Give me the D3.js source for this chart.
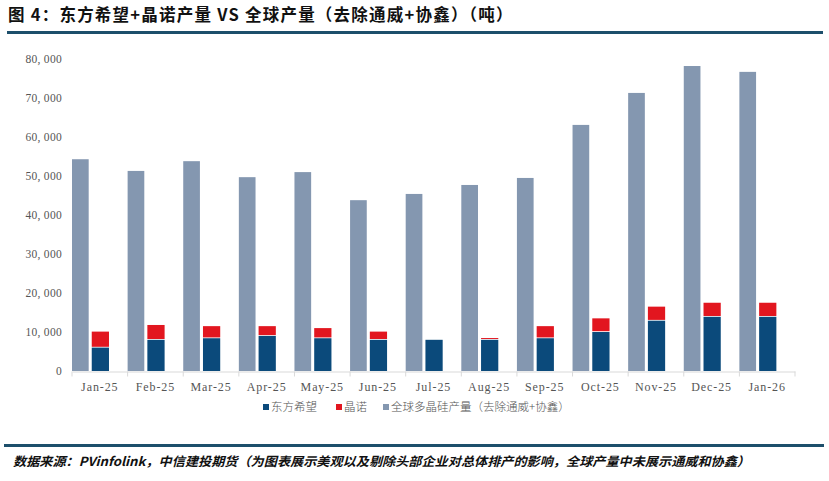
<!DOCTYPE html>
<html>
<head>
<meta charset="utf-8">
<script src="https://cdn.jsdelivr.net/npm/d3@7"></script>
<style>
  body { margin: 0; background: #fff; }
  svg { display: block; }
</style>
</head>
<body>
<svg id="chart" width="829" height="481"></svg>
<script>
const months = ["Jan-25","Feb-25","Mar-25","Apr-25","May-25","Jun-25","Jul-25","Aug-25","Sep-25","Oct-25","Nov-25","Dec-25","Jan-26"]
const global = [54300, 51300, 53800, 49700, 51000, 43800, 45400, 47700, 49500, 63100, 71300, 78200, 76700]
const dongfang = [6000, 8000, 8400, 9000, 8400, 8000, 8000, 8000, 8400, 10000, 12900, 13900, 13900]
const jingnuo = [4100, 3800, 3100, 2500, 2600, 2100, 0, 450, 3100, 3500, 3600, 3600, 3600]
const yTicks = [0, 10000, 20000, 30000, 40000, 50000, 60000, 70000, 80000]

const svg = d3.select("#chart")
const serif = "'Liberation Serif', 'DejaVu Serif', serif"
const cjk = "'Noto Sans CJK SC', sans-serif"

// title + header rule
svg.append("text")
  .attr("x", 8).attr("y", 21)
  .attr("font-family", cjk).attr("font-size", 16.5).attr("font-weight", 600)
  .attr("letter-spacing", 0.6)
  .attr("fill", "#111")
  .attr("textLength", 505).attr("lengthAdjust", "spacing")
  .text("图 4：东方希望+晶诺产量 VS 全球产量（去除通威+协鑫）（吨）")
svg.append("rect").attr("x", 7).attr("y", 31).attr("width", 816).attr("height", 3).attr("fill", "#1d4f6b")

const x = d3.scaleBand().domain(months).range([72, 795])
const y = d3.scaleLinear().domain([0, 80000]).range([371, 59])
const bw = x.bandwidth()

// y tick labels (no axis line)
svg.append("g").selectAll("text").data(yTicks).join("text")
  .attr("x", 62).attr("y", d => y(d) + 4)
  .attr("text-anchor", "end")
  .attr("font-family", serif).attr("font-size", 11.5).attr("fill", "#555")
  .attr("letter-spacing", 0.3)
  .text(d => d3.format(",")(d).replace(",", ", "))

// bars
const g = svg.append("g")
g.selectAll(".gl").data(months).join("rect")
  .attr("x", d => x(d)).attr("width", bw * 0.3)
  .attr("y", (d, i) => y(global[i])).attr("height", (d, i) => y(0) - y(global[i]))
  .attr("fill", "#8497b0")
g.selectAll(".df").data(months).join("rect")
  .attr("x", d => x(d) + bw * 0.355).attr("width", bw * 0.31)
  .attr("y", (d, i) => y(dongfang[i])).attr("height", (d, i) => y(0) - y(dongfang[i]))
  .attr("fill", "#0b4a7b")
g.selectAll(".jn").data(months).join("rect")
  .attr("x", d => x(d) + bw * 0.355).attr("width", bw * 0.31)
  .attr("y", (d, i) => y(dongfang[i] + jingnuo[i]))
  .attr("height", (d, i) => jingnuo[i] > 0 ? y(dongfang[i]) - y(dongfang[i] + jingnuo[i]) - 0.8 : 0)
  .attr("fill", "#e2161f")

// x axis
const xAxis = svg.append("g").attr("transform", "translate(0,371.5)")
  .call(d3.axisBottom(x).tickSize(0).tickPadding(11))
xAxis.select(".domain").attr("stroke", "#d9d9d9")
xAxis.selectAll("text").attr("font-family", serif).attr("font-size", 12).attr("fill", "#555")
  .attr("letter-spacing", 0.9)
xAxis.selectAll(".sep").data(months.concat(["end"])).join("line")
  .attr("x1", (d, i) => 72 + i * bw).attr("x2", (d, i) => 72 + i * bw)
  .attr("y1", 0).attr("y2", 5).attr("stroke", "#d9d9d9")

// legend
const legend = [
  { name: "东方希望", color: "#0b4a7b", x: 263 },
  { name: "晶诺", color: "#e2161f", x: 336 },
  { name: "全球多晶硅产量（去除通威+协鑫）", color: "#8497b0", x: 383 }
]
const lg = svg.append("g").selectAll("g").data(legend).join("g")
  .attr("transform", d => `translate(${d.x},411)`)
lg.append("rect").attr("x", 0).attr("y", -7).attr("width", 6).attr("height", 6).attr("fill", d => d.color)
lg.append("text").attr("x", 8).attr("y", 0)
  .attr("font-family", cjk).attr("font-size", 11.5).attr("font-weight", 300).attr("fill", "#555")
  .text(d => d.name)

// footer
svg.append("rect").attr("x", 4).attr("y", 444).attr("width", 820).attr("height", 3).attr("fill", "#1d4f6b")
svg.append("text")
  .attr("x", 13).attr("y", 466)
  .attr("font-family", cjk).attr("font-size", 12.5).attr("font-weight", 700).attr("font-style", "italic")
  .attr("fill", "#111")
  .attr("textLength", 737).attr("lengthAdjust", "spacingAndGlyphs")
  .text("数据来源：PVinfolink，中信建投期货（为图表展示美观以及剔除头部企业对总体排产的影响，全球产量中未展示通威和协鑫）")
</script>
</body>
</html>
